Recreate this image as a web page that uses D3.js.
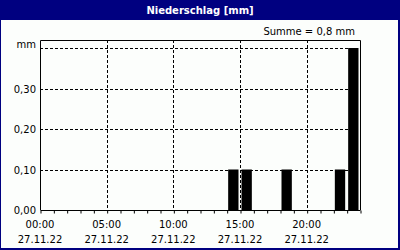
<!DOCTYPE html>
<html>
<head>
<meta charset="utf-8">
<script src="https://cdn.jsdelivr.net/npm/d3@7"></script>
<style>
  body { margin: 0; background: #fff; }
  text { font-family: "DejaVu Sans", sans-serif; font-size: 10px; fill: #000; }
</style>
</head>
<body>
<div id="chart"></div>
<script>
// hourly precipitation, 27.11.22 (hour of day -> mm)
var hours = [14, 15, 18, 22, 23];
var values = [0.1, 0.1, 0.1, 0.1, 0.4];
var yTicks = [0, 0.1, 0.2, 0.3];
var xTicks = [0, 5, 10, 15, 20];
var dateLabel = "27.11.22";
var title = "Niederschlag [mm]";
var sumLabel = "Summe = 0,8 mm";

var width = 400, height = 250;
var margin = { top: 40, right: 40, bottom: 40, left: 40 };

var svg = d3.select("#chart").append("svg")
  .attr("width", width)
  .attr("height", height);

// frame + title bar
svg.append("rect").attr("width", width).attr("height", height).attr("fill", "#000080");
svg.append("rect").attr("x", 1).attr("y", 20).attr("width", width - 3).attr("height", height - 22).attr("fill", "#fcfefc");
svg.append("text")
  .attr("x", width / 2).attr("y", 14)
  .attr("text-anchor", "middle")
  .style("fill", "#fff").style("font-weight", "bold")
  .text(title);

var x = d3.scaleLinear().domain([0, 24]).range([margin.left, width - margin.right]);
var y = d3.scaleLinear().domain([0, 0.4]).range([210, 48]);

// dashed grid
svg.append("g").selectAll("line")
  .data(yTicks.slice(1).concat([0.4]))
  .enter().append("line")
  .attr("x1", x(0)).attr("x2", x(24))
  .attr("y1", function (d) { return Math.round(y(d)) + 0.5; })
  .attr("y2", function (d) { return Math.round(y(d)) + 0.5; })
  .attr("stroke", "#000").attr("stroke-dasharray", "3,2");

svg.append("g").selectAll("line")
  .data(xTicks.slice(1))
  .enter().append("line")
  .attr("x1", function (d) { return Math.round(x(d)) + 0.5; })
  .attr("x2", function (d) { return Math.round(x(d)) + 0.5; })
  .attr("y1", 40).attr("y2", 210)
  .attr("stroke", "#000").attr("stroke-dasharray", "3,2");

// bars, one per hour slot
svg.append("g").selectAll("rect")
  .data(hours)
  .enter().append("rect")
  .attr("x", function (d) { return x(d) + 1.5; })
  .attr("width", x(1) - x(0) - 3)
  .attr("y", function (d, i) { return y(values[i]); })
  .attr("height", function (d, i) { return y(0) - y(values[i]); })
  .attr("fill", "#000");

// plot frame: left/right/top
svg.append("path")
  .attr("d", "M40.5,210V40.5H360.5V210")
  .attr("fill", "none").attr("stroke", "#000");

// x axis with hourly minor ticks
var xAxis = d3.axisBottom(x).tickValues(d3.range(0, 25)).tickSize(3).tickFormat("");
var gx = svg.append("g").attr("transform", "translate(0.5,210.5)").call(xAxis);
gx.select(".domain").attr("d", "M40,0H360");
gx.selectAll("line").attr("stroke", "#000");

svg.append("g").selectAll("text")
  .data(xTicks)
  .enter().append("text")
  .attr("x", function (d) { return x(d); })
  .attr("y", 228)
  .attr("text-anchor", "middle")
  .text(function (d) { return d3.format("02")(d) + ":00"; });

svg.append("g").selectAll("text")
  .data(xTicks)
  .enter().append("text")
  .attr("x", function (d) { return x(d); })
  .attr("y", 243)
  .attr("text-anchor", "middle")
  .text(dateLabel);

// y tick labels
svg.append("g").selectAll("text")
  .data(yTicks)
  .enter().append("text")
  .attr("x", 36)
  .attr("y", function (d) { return y(d) + 4; })
  .attr("text-anchor", "end")
  .text(function (d) { return d3.format(".2f")(d).replace(".", ","); });

svg.append("text").attr("x", 36).attr("y", 48).attr("text-anchor", "end").text("mm");
svg.append("text").attr("x", 355).attr("y", 35).attr("text-anchor", "end").text(sumLabel);
</script>
</body>
</html>
